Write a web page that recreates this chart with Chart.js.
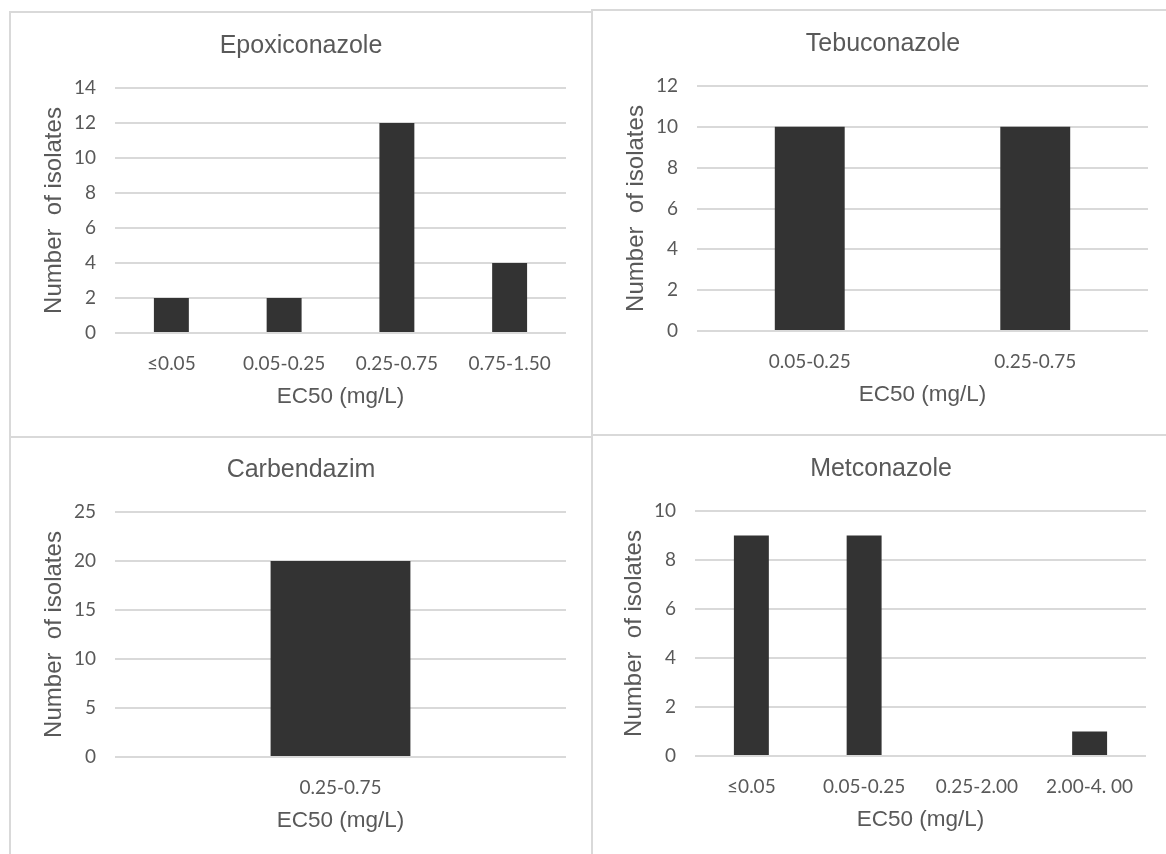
<!DOCTYPE html>
<html>
<head>
<meta charset="utf-8">
<script src="https://cdn.jsdelivr.net/npm/chart.js@4.4.1/dist/chart.umd.min.js"></script>
<style>
    html, body {
        margin: 0;
        padding: 0;
        background: #ffffff;
    }
    body {
        width: 1166px;
        height: 854px;
        position: relative;
        overflow: hidden;
    }
    .panel {
        position: absolute;
        box-sizing: border-box;
        border: 2px solid #d9d9d9;
        background: #ffffff;
    }
    .panel canvas {
        position: absolute;
    }
</style>
</head>
<body>

<div class="panel" style="left:9px; top:11px; width:584px; height:427px;">
    <canvas id="epoxiChart" width="582" height="425" style="left:-1px; top:-1px;"></canvas>
</div>
<div class="panel" style="left:591px; top:9px; width:620px; height:427px;">
    <canvas id="tebuChart" width="582" height="425" style="left:-1px; top:-1px;"></canvas>
</div>
<div class="panel" style="left:9px; top:436px; width:584px; height:460px;">
    <canvas id="carbChart" width="582" height="425" style="left:-1px; top:-2px;"></canvas>
</div>
<div class="panel" style="left:591px; top:434px; width:620px; height:460px;">
    <canvas id="metcChart" width="582" height="425" style="left:-3px; top:-1px;"></canvas>
</div>

<script>
// EC50 class counts per fungicide
const epoxiLabels = ['≤0.05', '0.05-0.25', '0.25-0.75', '0.75-1.50'];
const epoxiCounts = [2, 2, 12, 4];

const tebuLabels = ['0.05-0.25', '0.25-0.75'];
const tebuCounts = [10, 10];

const carbLabels = ['0.25-0.75'];
const carbCounts = [20];

const metcLabels = ['≤0.05', '0.05-0.25', '0.25-2.00', '2.00-4. 00'];
const metcCounts = [9, 9, 0, 1];

// y axis ranges: [max, step]
const epoxiAxis = [14, 2];
const tebuAxis = [12, 2];
const carbAxis = [25, 5];
const metcAxis = [10, 2];

const textGrey = '#595959';
const gridGrey = '#d9d9d9';
const barColor = '#333333';

// Draws one panel, all panels share the same layout
function makeChart(canvasId, titleText, labels, counts, axis) {
    const ctx = document.getElementById(canvasId).getContext('2d');

    return new Chart(ctx, {
        type: 'bar',
        data: {
            labels: labels,
            datasets: [{
                data: counts,
                backgroundColor: barColor,
                borderWidth: 0,
                barPercentage: 0.31,
                categoryPercentage: 1,
                yAxisID: 'y'
            }]
        },
        options: {
            responsive: false,
            animation: false,
            events: [],
            layout: {
                padding: 0
            },
            plugins: {
                legend: { display: false },
                tooltip: { enabled: false },
                title: {
                    display: true,
                    text: titleText,
                    color: textGrey,
                    font: { family: '"Liberation Sans", Arial, sans-serif', size: 25, weight: 'normal' },
                    padding: { top: 19, bottom: 27 }
                }
            },
            scales: {
                x: {
                    grid: { display: false },
                    border: { display: false },
                    ticks: {
                        color: textGrey,
                        font: { family: 'Lato, sans-serif', size: 19 },
                        padding: 11,
                        autoSkip: false,
                        maxRotation: 0
                    },
                    title: {
                        display: true,
                        text: 'EC50 (mg/L)',
                        color: textGrey,
                        font: { family: '"Liberation Sans", Arial, sans-serif', size: 22.5 },
                        padding: { top: 0, bottom: 26.5 }
                    },
                    afterFit: function(scale) {
                        scale.height = 104;
                    }
                },
                y: {
                    min: 0,
                    max: axis[0],
                    grid: {
                        color: gridGrey,
                        lineWidth: 2,
                        drawTicks: false
                    },
                    border: { display: false },
                    ticks: {
                        stepSize: axis[1],
                        color: textGrey,
                        font: { family: 'Lato, sans-serif', size: 19 },
                        padding: 19
                    },
                    title: {
                        display: true,
                        text: 'Number  of isolates',
                        color: textGrey,
                        font: { family: '"Liberation Sans", Arial, sans-serif', size: 24 },
                        padding: { top: 30, bottom: 0 }
                    },
                    afterFit: function(scale) {
                        scale.width = 105;
                    }
                },
                // empty right margin so the title stays centred on the whole panel
                spacer: {
                    type: 'linear',
                    position: 'right',
                    grid: { display: false },
                    border: { display: false },
                    ticks: { display: false },
                    afterFit: function(scale) {
                        scale.width = 26;
                    }
                }
            }
        }
    });
}

makeChart('epoxiChart', 'Epoxiconazole', epoxiLabels, epoxiCounts, epoxiAxis);
makeChart('tebuChart', 'Tebuconazole', tebuLabels, tebuCounts, tebuAxis);
makeChart('carbChart', 'Carbendazim', carbLabels, carbCounts, carbAxis);
makeChart('metcChart', 'Metconazole', metcLabels, metcCounts, metcAxis);
</script>
</body>
</html>
